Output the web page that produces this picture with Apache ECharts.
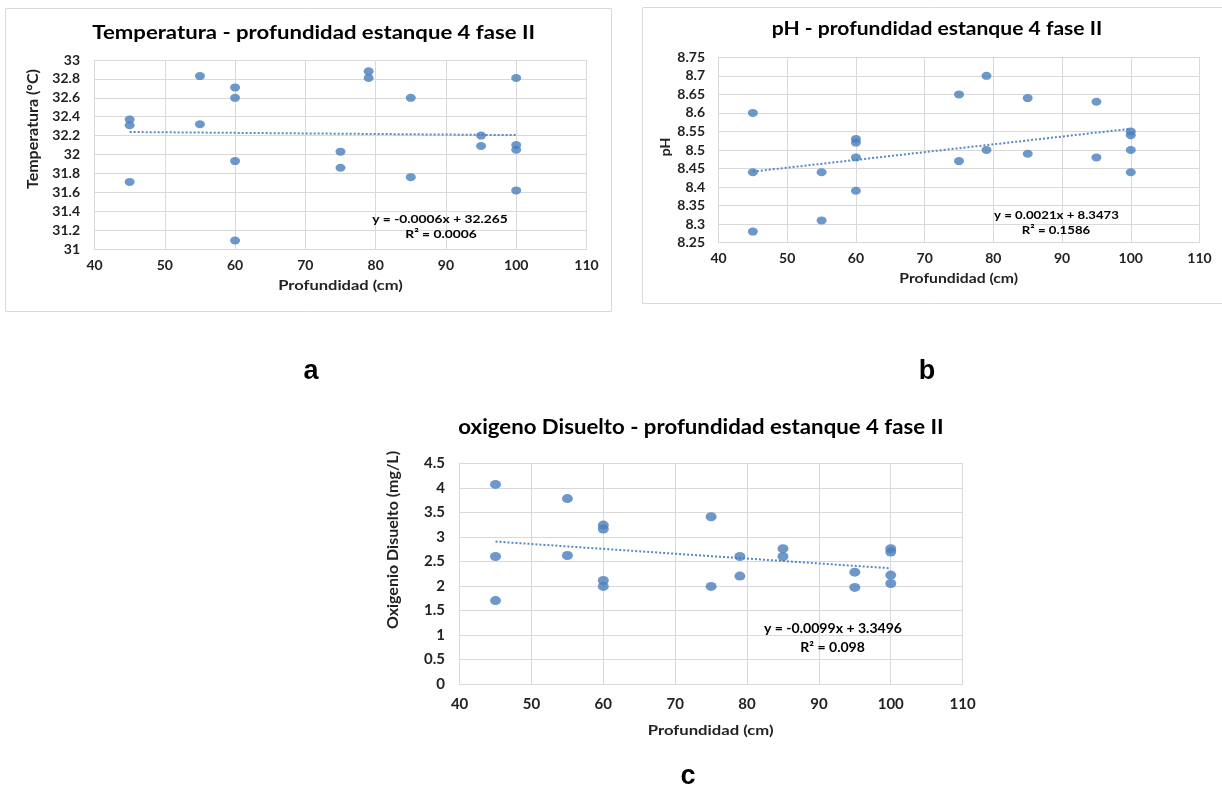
<!DOCTYPE html>
<html>
<head>
<meta charset="utf-8">
<script src="https://cdn.jsdelivr.net/npm/echarts@6/dist/echarts.min.js"></script>
<style>
html,body{margin:0;padding:0;background:#fff;}
#c{width:1222px;height:789px;}
</style>
</head>
<body>
<div id="c"></div>
<script>
// ---- data ----
const depthA = [45, 45, 45, 55, 55, 60, 60, 60, 60, 75, 75, 79, 79, 85, 85, 95, 95, 100, 100, 100, 100];
const tempA  = [32.37, 32.31, 31.71, 32.83, 32.32, 32.71, 32.60, 31.93, 31.09, 32.03, 31.86, 32.88, 32.81, 32.60, 31.76, 32.20, 32.09, 32.81, 32.10, 32.05, 31.62];

const depthB = [45, 45, 45, 55, 55, 60, 60, 60, 60, 75, 75, 79, 79, 85, 85, 95, 95, 100, 100, 100, 100];
const phB    = [8.60, 8.44, 8.28, 8.44, 8.31, 8.53, 8.52, 8.48, 8.39, 8.65, 8.47, 8.70, 8.50, 8.64, 8.49, 8.63, 8.48, 8.55, 8.54, 8.50, 8.44];

const depthC = [45, 45, 45, 55, 55, 60, 60, 60, 60, 75, 75, 79, 79, 85, 85, 95, 95, 100, 100, 100, 100];
const odC    = [4.07, 2.60, 1.70, 3.78, 2.62, 3.24, 3.16, 2.11, 1.99, 3.41, 1.99, 2.60, 2.20, 2.76, 2.60, 2.28, 1.97, 2.76, 2.69, 2.22, 2.05];

// trendline coefficients [slope, intercept] as printed on the chart
const trendA = [-0.0006, 32.265];
const trendB = [0.0021, 8.3473];
const trendC = [-0.0099, 3.3496];
const trendRange = [45, 100];

const titles = ['Temperatura - profundidad estanque 4 fase II', 'pH - profundidad estanque 4 fase II', 'oxigeno Disuelto - profundidad estanque 4 fase II'];
const yNames = ['Temperatura (°C)', 'pH', 'Oxigenio Disuelto (mg/L)'];
const xName = 'Profundidad (cm)';
const eqA = ['y = -0.0006x + 32.265', 'R² = 0.0006'];
const eqB = ['y = 0.0021x + 8.3473', 'R² = 0.1586'];
const eqC = ['y = -0.0099x + 3.3496', 'R² = 0.098'];
const panelLetters = ['a', 'b', 'c'];

// ---- chart ----
const FONT = 'Lato, "Open Sans", sans-serif';
const DOT = '#4a7ebb';
const TREND = '#5686cc';
const GRIDC = '#d9d9d9';

function pts(xs, ys){ return xs.map((x,i)=>[x, ys[i]]); }
function trend(c){ return trendRange.map(x=>[x, +(c[0]*x + c[1]).toFixed(5)]); }

const grids = [
  {left:94.5, top:60, width:492, height:189},
  {left:718.5, top:57.3, width:481, height:185.4},
  {left:459.6, top:463.3, width:503, height:220.7}
];
const yCfg = [
  {min:31, max:33, interval:0.2, margin:14.5},
  {min:8.25, max:8.75, interval:0.05, margin:13.5},
  {min:0, max:4.5, interval:0.5, margin:14.6}
];
const xMargins = [9, 9, 13];
const labelSizes = [14, 14, 15];

const xAxis = grids.map((g,i)=>({
  type:'value', gridIndex:i, min:40, max:110, interval:10,
  axisLine:{show:true, lineStyle:{color:GRIDC}}, axisTick:{show:false},
  axisLabel:{margin:xMargins[i], color:'#222', fontFamily:FONT, fontWeight:'bold', fontSize:labelSizes[i]},
  splitLine:{show:true, lineStyle:{color:GRIDC, width:1}}
}));
const yAxis = yCfg.map((c,i)=>({
  type:'value', gridIndex:i, min:c.min, max:c.max, interval:c.interval,
  axisLine:{show:true, lineStyle:{color:GRIDC}}, axisTick:{show:false},
  axisLabel:{margin:c.margin, color:'#222', fontFamily:FONT, fontWeight:'bold', fontSize:labelSizes[i]},
  splitLine:{show:true, lineStyle:{color:GRIDC, width:1}}
}));

const dataSets = [pts(depthA,tempA), pts(depthB,phB), pts(depthC,odC)];
const trends = [trend(trendA), trend(trendB), trend(trendC)];
const dotSizes = [[10,8],[10,8],[11,9]];
const series = [];
for (let i=0;i<3;i++){
  series.push({type:'line', xAxisIndex:i, yAxisIndex:i, data:trends[i], symbol:'none',
    lineStyle:{color:TREND, width:2, type:[2,2]}, z:2});
  series.push({type:'scatter', xAxisIndex:i, yAxisIndex:i, data:dataSets[i],
    symbol:'circle', symbolSize:dotSizes[i], itemStyle:{color:DOT}, z:3});
}

function txt(x,y,text,size,opts){
  opts = opts || {};
  return {type:'text', x:x, y:y, rotation:opts.rot||0, scaleX:opts.sx||1, z:10,
    style:{text:text, fill:opts.fill||'#000', font:'bold '+size+'px '+(opts.font||FONT), textAlign:'center', textVerticalAlign:'middle'}};
}
const ARIAL = 'Arial, "Liberation Sans", sans-serif';
const R90 = Math.PI/2;

const graphic = [
  {type:'rect', shape:{x:5.5, y:8.5, width:606, height:303}, style:{fill:'none', stroke:'#d9d9d9', lineWidth:1}},
  {type:'rect', shape:{x:642.5, y:7.5, width:590, height:296}, style:{fill:'none', stroke:'#d9d9d9', lineWidth:1}},
  txt(313.7, 33, titles[0], 18, {sx:1.23}),
  txt(937, 29, titles[1], 18, {sx:1.17}),
  txt(701, 428, titles[2], 20, {sx:1.11}),
  txt(33, 129, yNames[0], 16, {rot:R90, fill:'#222'}),
  txt(665, 147, yNames[1], 14, {rot:R90, fill:'#222'}),
  txt(393, 540, yNames[2], 16, {rot:R90, fill:'#222'}),
  txt(340.5, 286, xName, 13, {sx:1.27, fill:'#222'}),
  txt(958.7, 279, xName, 13, {sx:1.21, fill:'#222'}),
  txt(710.7, 730, xName, 14, {sx:1.19, fill:'#222'}),
  txt(440, 219, eqA[0], 12, {sx:1.15}), txt(441, 234, eqA[1], 12, {sx:1.15}),
  txt(1056.5, 215, eqB[0], 12, {sx:1.1}), txt(1056, 230, eqB[1], 12, {sx:1.1}),
  txt(833, 629, eqC[0], 13, {sx:1.08}), txt(832.6, 648, eqC[1], 13, {sx:1.08}),
  txt(311, 372, panelLetters[0], 27, {font:ARIAL}),
  txt(927, 372, panelLetters[1], 27, {font:ARIAL}),
  txt(688, 777, panelLetters[2], 27, {font:ARIAL})
];

const chart = echarts.init(document.getElementById('c'), null, {renderer:'canvas'});
chart.setOption({
  animation:false,
  backgroundColor:'#fff',
  grid:grids,
  xAxis:xAxis,
  yAxis:yAxis,
  series:series,
  graphic:graphic
});
</script>
</body>
</html>
